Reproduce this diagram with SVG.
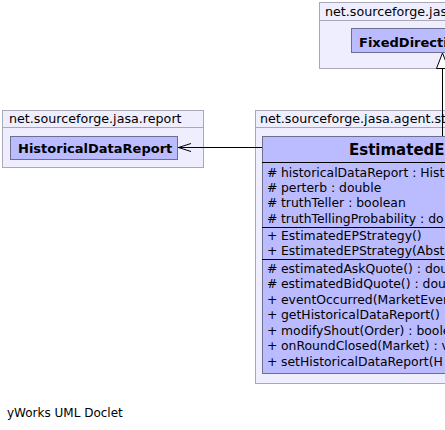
<svg xmlns="http://www.w3.org/2000/svg" width="445" height="430" viewBox="0 0 445 430">
<style>
.pkg{fill:#eeeeff;stroke:#a8a8b8;stroke-width:1}
.cls{fill:#bbbbff;stroke:#6e6e90;stroke-width:1}
.pt{font-family:"DejaVu Sans",sans-serif;font-size:12.7px;fill:#000}
.cn{font-family:"DejaVu Sans",sans-serif;font-size:13px;font-weight:bold;fill:#000}
.mt{font-family:"DejaVu Sans",sans-serif;font-size:12.4px;fill:#000}
.ft{font-family:"DejaVu Sans",sans-serif;font-size:12px;fill:#000}
.sep{stroke:#000;stroke-width:1}
.edge{stroke:#000;stroke-width:1;fill:none}
</style>
<rect x="0" y="0" width="445" height="430" fill="#ffffff"/>
<g id="pkg-report">
<rect class="pkg" x="2.5" y="110.5" width="201" height="17"/>
<rect class="pkg" x="2.5" y="127.5" width="201" height="40"/>
<text class="pt" x="9" y="122.5">net.sourceforge.jasa.report</text>
</g>
<g id="pkg-top">
<rect class="pkg" x="319.5" y="2.5" width="140" height="18"/>
<rect class="pkg" x="319.5" y="20.5" width="140" height="48"/>
<text class="pt" x="325" y="16">net.sourceforge.jas</text>
</g>
<g id="pkg-agent">
<rect class="pkg" x="255.5" y="110.5" width="200" height="17"/>
<rect class="pkg" x="255.5" y="127.5" width="200" height="256"/>
<text class="pt" x="260" y="122.5">net.sourceforge.jasa.agent.st</text>
</g>
<g id="node-HistoricalDataReport">
<rect class="cls" x="10.5" y="136.5" width="167" height="23"/>
<text class="cn" x="18" y="152.5">HistoricalDataReport</text>
</g>
<g id="node-FixedDirection">
<rect class="cls" x="351.5" y="28.5" width="110" height="24"/>
<text class="cn" x="359" y="46.5">FixedDirecti</text>
</g>
<g id="node-EstimatedEPStrategy">
<rect class="cls" x="262.5" y="136.5" width="200" height="237"/>
<text class="cn" x="349" y="155" style="font-size:15px">EstimatedE</text>
<line class="sep" x1="262" y1="162.5" x2="445" y2="162.5"/>
<line class="sep" x1="262" y1="227.5" x2="445" y2="227.5"/>
<line class="sep" x1="262" y1="259.5" x2="445" y2="259.5"/>
<g class="mt">
<text x="267" y="176.5">#</text><text x="281" y="176.5">historicalDataReport : Hist</text>
<text x="267" y="192">#</text><text x="281" y="192">perterb : double</text>
<text x="267" y="207">#</text><text x="281" y="207">truthTeller : boolean</text>
<text x="267" y="222.5">#</text><text x="281" y="222.5">truthTellingProbability : do</text>
<text x="267" y="239.5">+</text><text x="281" y="239.5">EstimatedEPStrategy()</text>
<text x="267" y="255">+</text><text x="281" y="255">EstimatedEPStrategy(Abst</text>
<text x="267" y="272.5">#</text><text x="281" y="272.5">estimatedAskQuote() : dou</text>
<text x="267" y="288">#</text><text x="281" y="288">estimatedBidQuote() : dou</text>
<text x="267" y="303.5">+</text><text x="281" y="303.5">eventOccurred(MarketEver</text>
<text x="267" y="319">+</text><text x="281" y="319">getHistoricalDataReport()</text>
<text x="267" y="334.5">+</text><text x="281" y="334.5">modifyShout(Order) : boole</text>
<text x="267" y="350">+</text><text x="281" y="350">onRoundClosed(Market) : v</text>
<text x="267" y="365.5">+</text><text x="281" y="365.5">setHistoricalDataReport(H</text>
</g>
</g>
<g id="connectors">
<line class="edge" x1="262" y1="147.5" x2="178" y2="147.5"/>
<polyline class="edge" points="191,143.5 178.5,147.5 191,151.5"/>
<line class="edge" x1="442.5" y1="68" x2="442.5" y2="136"/>
<polygon points="442.5,53 436.5,68.5 448.5,68.5" fill="#ffffff" stroke="#000" stroke-width="1"/>
</g>
<text class="ft" x="7" y="416.5">yWorks UML Doclet</text>
</svg>
